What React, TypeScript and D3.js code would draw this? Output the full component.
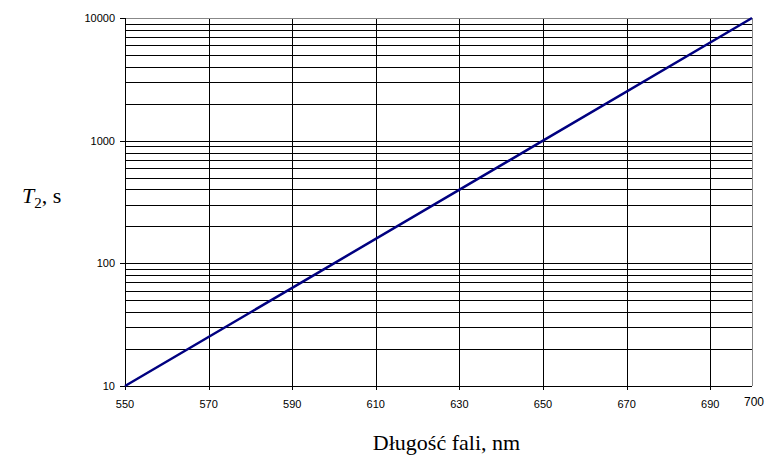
import React from 'react';
import * as d3 from 'd3';

const wavelengths = [550, 600, 650, 700];
const times = [10, 100, 1000, 10000];
const xTicks = [550, 570, 590, 610, 630, 650, 670, 690];
const yTicks = [10, 100, 1000, 10000];

const W = 765;
const H = 456;
const margin = { top: 18, right: 13, bottom: 70, left: 125 };

const App: React.FC = () => {
  const x = d3.scaleLinear().domain([550, 700]).range([margin.left, W - margin.right]);
  const y = d3.scaleLog().domain([10, 10000]).range([H - margin.bottom, margin.top]);

  // minor grid: 1..9 x each decade
  const grid: number[] = [];
  for (let d = 10; d < 10000; d *= 10) {
    for (let k = 2; k <= 9; k++) grid.push(d * k);
  }

  const line = d3.line<number>()
    .x((_, i) => x(wavelengths[i]))
    .y((d) => y(d));

  const x0 = x(550), x1 = x(700), y0 = y(10), y1 = y(10000);
  const px = (v: number) => Math.round(v) + 0.5;

  return (
    <svg width={W} height={H} style={{ position: 'absolute', left: 0, top: 0, background: '#fff' }}>
      <g shapeRendering="crispEdges" stroke="#000" strokeWidth={1}>
        {grid.map((v) => (
          <line key={'h' + v} x1={x0} x2={x1} y1={px(y(v))} y2={px(y(v))} />
        ))}
        {[100, 1000].map((v) => (
          <line key={'hd' + v} x1={x0} x2={x1} y1={px(y(v))} y2={px(y(v))} />
        ))}
        {xTicks.slice(1).map((v) => (
          <line key={'v' + v} x1={px(x(v))} x2={px(x(v))} y1={y1} y2={y0 + 4} />
        ))}
        {yTicks.map((v) => (
          <line key={'yt' + v} x1={x0 - 5} x2={x0} y1={px(y(v))} y2={px(y(v))} />
        ))}
        <line x1={x0} x2={x1} y1={px(y1)} y2={px(y1)} stroke="#888" />
        <line x1={px(x1)} x2={px(x1)} y1={y1} y2={y0} stroke="#888" />
        <line x1={px(x0)} x2={px(x0)} y1={y1} y2={y0 + 1} />
        <line x1={x0} x2={x1} y1={px(y0)} y2={px(y0)} />
        <line x1={px(x0)} x2={px(x0)} y1={y0} y2={y0 + 4} />
      </g>
      <path d={line(times) || ''} fill="none" stroke="#000080" strokeWidth={2.5} />
      <g fontFamily="'Liberation Sans', Arial, sans-serif" fontSize={11} fill="#000">
        {yTicks.map((v) => (
          <text key={'yl' + v} x={x0 - 10} y={y(v)} dy="0.35em" textAnchor="end">{v}</text>
        ))}
        {xTicks.map((v) => (
          <text key={'xl' + v} x={x(v)} y={y0 + 22} textAnchor="middle">{v}</text>
        ))}
        <text x={x1 + 2} y={y0 + 20} fontSize={12} textAnchor="middle">700</text>
      </g>
      <g fontFamily="'Liberation Serif', 'Times New Roman', serif" fontSize={22} fill="#000">
        <text x={22} y={203}>
          <tspan fontStyle="italic">T</tspan>
          <tspan fontSize={15} dy={5}>2</tspan>
          <tspan dy={-5}>, s</tspan>
        </text>
        <text x={(x0 + x1) / 2 + 8} y={450} textAnchor="middle">Długość fali, nm</text>
      </g>
    </svg>
  );
};

export default App;
